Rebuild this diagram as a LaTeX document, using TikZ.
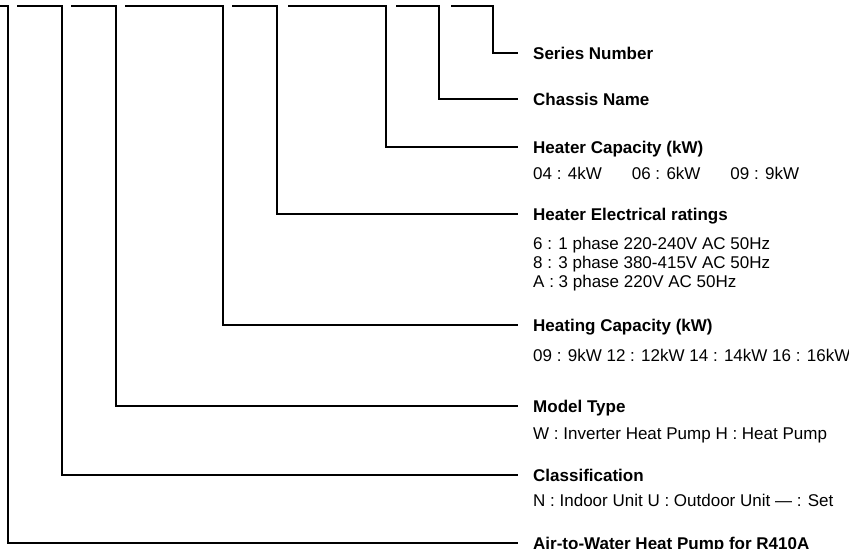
\documentclass[tikz,border=0pt]{standalone}
\usepackage{fontspec}
\setmainfont{Liberation Sans}
\usepackage{tikz}
\usetikzlibrary{positioning,calc}

\begin{document}
\begin{tikzpicture}[
  x=1pt, y=-1pt,
  head/.style={anchor=west, inner xsep=15pt, inner ysep=0pt, text height=12.2pt, text depth=0pt, font=\fontsize{17}{19}\selectfont\bfseries},
  sub/.style={anchor=base west, inner sep=0pt, align=left, font=\fontsize{17}{19}\selectfont},
  lead/.style={line width=1.2pt, line join=miter},
]
  \useasboundingbox (0,0) rectangle (849,549);

  % Code positions along the top
  \coordinate (t1) at (0,6);
  \coordinate (t2) at (17,6);
  \coordinate (t3) at (71,6);
  \coordinate (t4) at (125,6);
  \coordinate (t5) at (232,6);
  \coordinate (t6) at (288,6);
  \coordinate (t7) at (396,6);
  \coordinate (t8) at (451,6);

  % Headings
  \node[head] (series) at (518,53)  {Series Number};
  \node[head] (chassis) at (518,99) {Chassis Name};
  \node[head] (htrcap) at (518,147) {Heater Capacity (kW)};
  \node[head] (htrelec) at (518,214) {Heater Electrical ratings};
  \node[head] (heatcap) at (518,325) {Heating Capacity (kW)};
  \node[head] (model) at (518,406)  {Model Type};
  \node[head] (classif) at (518,475) {Classification};
  \node[head] (airwater) at (518,543) {Air-to-Water Heat Pump for R410A};

  % Details (multi-line node sits on its last baseline)
  \node[sub] (htrcapval) at (533,179) {04 : 4kW\hspace{30pt}06 : 6kW\hspace{30pt}09 : 9kW};
  \node[sub] (htrelecval) at (533,287) {6 : 1 phase 220-240V AC 50Hz\\8 : 3 phase 380-415V AC 50Hz\\A : 3 phase 220V AC 50Hz};
  \node[sub] (heatcapval) at (533,361) {09 : 9kW 12 : 12kW 14 : 14kW 16 : 16kW};
  \node[sub] (modelval) at (533,439) {W : Inverter Heat Pump H : Heat Pump};
  \node[sub] (classifval) at (533,506) {N : Indoor Unit U : Outdoor Unit — : Set};

  % Leader lines
  \draw[lead] (t1) -- ++(8,0)  |- (airwater.west);
  \draw[lead] (t2) -- ++(45,0) |- (classif.west);
  \draw[lead] (t3) -- ++(45,0) |- (model.west);
  \draw[lead] (t4) -- ++(98,0) |- (heatcap.west);
  \draw[lead] (t5) -- ++(45,0) |- (htrelec.west);
  \draw[lead] (t6) -- ++(98,0) |- (htrcap.west);
  \draw[lead] (t7) -- ++(43,0) |- (chassis.west);
  \draw[lead] (t8) -- ++(42,0) |- (series.west);
\end{tikzpicture}
\end{document}
